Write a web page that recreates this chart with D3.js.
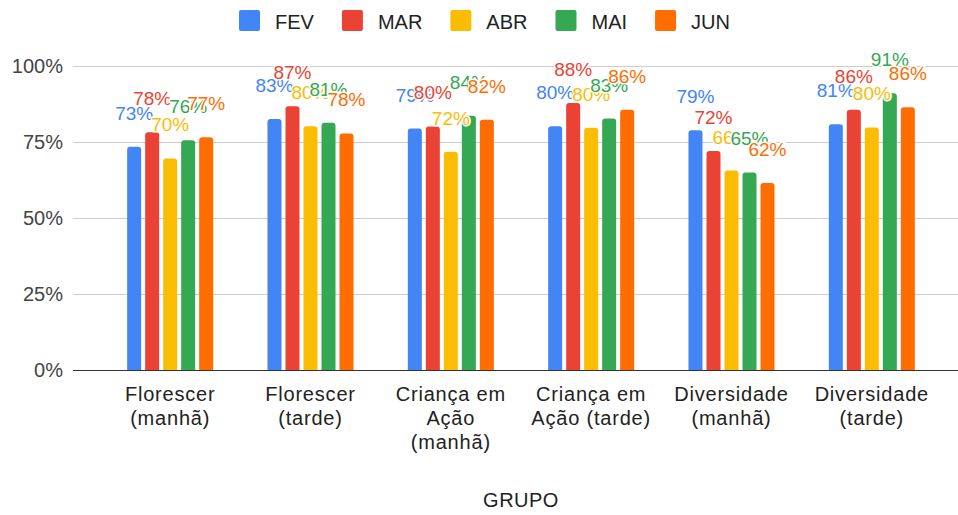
<!DOCTYPE html>
<html>
<head>
<meta charset="utf-8">
<script src="https://cdn.jsdelivr.net/npm/d3@7"></script>
<style>
  body { margin: 0; background: #fff; }
  text { font-family: "Liberation Sans", Arial, sans-serif; }
</style>
</head>
<body>
<script>
const width = 958;
const height = 515;

// data
const grupos = ["Florescer\n(manhã)", "Florescer\n(tarde)", "Criança em\nAção\n(manhã)",
    "Criança em\nAção (tarde)", "Diversidade\n(manhã)", "Diversidade\n(tarde)"];
const meses = ["FEV", "MAR", "ABR", "MAI", "JUN"];
const fev = [0.734, 0.826, 0.794, 0.802, 0.789, 0.808];
const mar = [0.782, 0.868, 0.801, 0.878, 0.720, 0.856];
const abr = [0.696, 0.802, 0.718, 0.797, 0.656, 0.798];
const mai = [0.756, 0.813, 0.836, 0.827, 0.650, 0.910];
const jun = [0.766, 0.778, 0.823, 0.856, 0.615, 0.864];
const yTicks = [0, 0.25, 0.5, 0.75, 1];

const series = [fev, mar, abr, mai, jun];
const cores = ["#4285f4", "#ea4335", "#fbbc04", "#34a853", "#ff6d01"];

const margin = { top: 66, right: 0, bottom: 145, left: 73 };
const baseY = height - margin.bottom;

var color = d3.scaleOrdinal().domain(meses).range(cores);

var x0 = d3.scaleBand()
    .domain(grupos)
    .range([100, 942])
    .paddingInner(0.387)
    .paddingOuter(0.1935);

var x1 = d3.scaleBand()
    .domain(meses)
    .range([0, x0.bandwidth()])
    .paddingInner(0.222);

var y = d3.scaleLinear()
    .domain([0, 1])
    .range([baseY, margin.top]);

var fmt = d3.format(".0%");

var svg = d3.select("body").append("svg")
    .attr("width", width)
    .attr("height", height);

// gridlines
svg.append("g")
    .selectAll("line")
    .data(yTicks.filter(d => d > 0))
    .enter()
    .append("line")
    .attr("x1", margin.left)
    .attr("x2", width)
    .attr("y1", d => Math.round(y(d)) + 0.5)
    .attr("y2", d => Math.round(y(d)) + 0.5)
    .attr("stroke", "#cccccc");

// y tick labels
svg.append("g")
    .selectAll("text")
    .data(yTicks)
    .enter()
    .append("text")
    .attr("x", 63)
    .attr("y", d => y(d))
    .attr("dy", "0.36em")
    .attr("text-anchor", "end")
    .attr("font-size", 20)
    .attr("fill", "#444")
    .text(d => fmt(d));

var rows = [];
grupos.forEach(function (g, i) {
    meses.forEach(function (m, j) {
        rows.push({ grupo: g, mes: m, valor: series[j][i] });
    });
});

// bar with rounded top corners
function barPath(d) {
    var bx = x0(d.grupo) + x1(d.mes),
        w = x1.bandwidth(),
        top = y(d.valor),
        r = 3;
    return "M" + bx + "," + baseY +
        "V" + (top + r) +
        "Q" + bx + "," + top + " " + (bx + r) + "," + top +
        "H" + (bx + w - r) +
        "Q" + (bx + w) + "," + top + " " + (bx + w) + "," + (top + r) +
        "V" + baseY + "Z";
}

svg.append("g")
    .selectAll("path")
    .data(rows)
    .enter()
    .append("path")
    .attr("d", barPath)
    .attr("fill", d => color(d.mes));

// baseline
svg.append("line")
    .attr("x1", margin.left)
    .attr("x2", width)
    .attr("y1", baseY + 0.5)
    .attr("y2", baseY + 0.5)
    .attr("stroke", "#333");

// value labels
svg.append("g")
    .selectAll("text")
    .data(rows)
    .enter()
    .append("text")
    .attr("x", d => x0(d.grupo) + x1(d.mes) + x1.bandwidth() / 2)
    .attr("y", d => y(d.valor) - 27)
    .attr("text-anchor", "middle")
    .attr("font-size", 19)
    .attr("fill", d => color(d.mes))
    .attr("stroke", "#fff")
    .attr("stroke-width", 3)
    .attr("paint-order", "stroke")
    .text(d => fmt(d.valor));

// x labels
var xl = svg.append("g")
    .selectAll("text")
    .data(grupos)
    .enter()
    .append("text")
    .attr("text-anchor", "middle")
    .attr("font-size", 20)
    .attr("letter-spacing", 0.8)
    .attr("fill", "#222");

xl.selectAll("tspan")
    .data(d => d.split("\n").map(t => ({ g: d, t: t })))
    .enter()
    .append("tspan")
    .attr("x", d => x0(d.g) + x0.bandwidth() / 2)
    .attr("y", (d, i) => 401 + i * 24)
    .text(d => d.t);

// axis title
svg.append("text")
    .attr("x", 521)
    .attr("y", 507)
    .attr("text-anchor", "middle")
    .attr("font-size", 20)
    .attr("letter-spacing", 0.5)
    .attr("fill", "#222")
    .text("GRUPO");

// legend
var lx = 239;
meses.forEach(function (m) {
    var item = svg.append("g");
    item.append("rect")
        .attr("x", lx)
        .attr("y", 10)
        .attr("width", 21)
        .attr("height", 21)
        .attr("rx", 2)
        .attr("fill", color(m));
    var t = item.append("text")
        .attr("x", lx + 36)
        .attr("y", 28.5)
        .attr("font-size", 20)
        .attr("fill", "#222")
        .text(m);
    lx += 36 + t.node().getComputedTextLength() + 28;
});
</script>
</body>
</html>
